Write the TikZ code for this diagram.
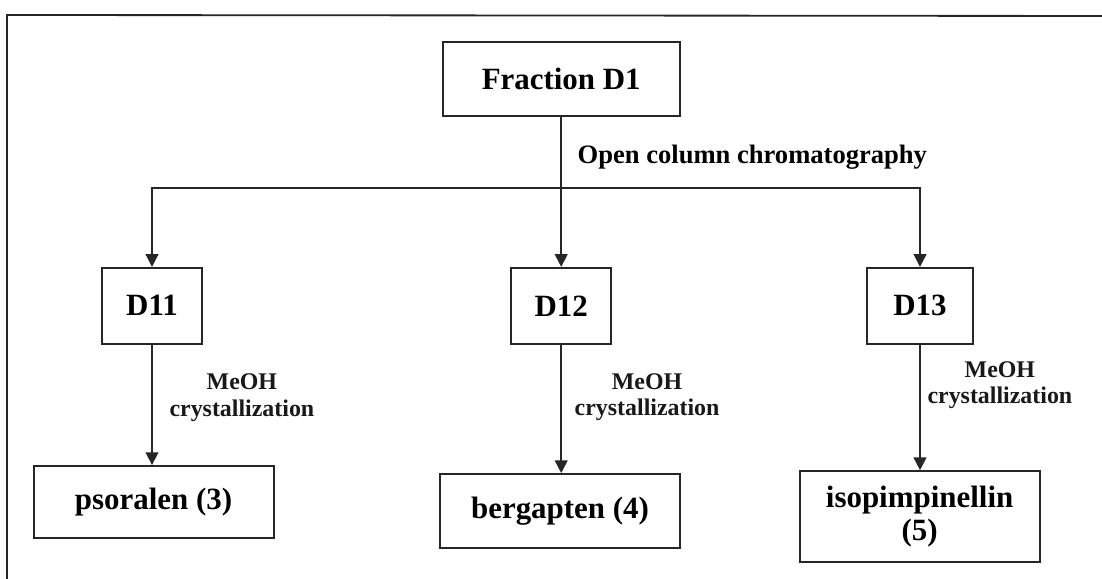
\documentclass[tikz,border=0pt]{standalone}
\usepackage{fontspec}
\setmainfont{Liberation Serif}
\usetikzlibrary{arrows.meta,positioning}
\tikzset{
  pageedge/.style={line width=1.3pt, draw=black!85},
  wire/.style={line width=1.2pt, draw=black!85},
  flow/.style={wire, -{Triangle[length=3.2mm, width=3.2mm]}},
  fracbox/.style={
    draw=black!85,
    line width=1.3pt,
    fill=white,
    align=center,
    font=\fontsize{22}{23.5}\selectfont\bfseries,
    inner sep=0pt,
    minimum width=2.5cm,
    minimum height=1.9cm
  },
  compound/.style={fracbox, minimum width=6.0cm},
  stepnote/.style={font=\fontsize{17}{18.5}\selectfont\bfseries, align=center, text=black!90},
  methodnote/.style={font=\fontsize{18.9}{22}\selectfont\bfseries, inner sep=0pt}
}

\begin{document}
\begin{tikzpicture}[x=1cm,y=1cm]
\path[use as bounding box] (0,0) rectangle (27.55,14.475);
\fill[white] (0,0) rectangle (27.55,14.475);
\draw[pageedge] (0.175,0) -- (0.175,14.1) -- (27.55,14.075);

\node[fracbox, minimum width=5.925cm, minimum height=1.85cm] (d1) at (14.03,12.5) {Fraction D1};
\coordinate (branch) at (14.03,9.775);

\node[fracbox] (d11) at (3.8,6.83) {D11};
\node[fracbox] (d12) at (14.03,6.83) {D12};
\node[fracbox, minimum width=2.65cm] (d13) at (23.0,6.83) {D13};

\node[compound, minimum height=1.8cm] (pso) at (3.84,1.925) {psoralen (3)};
\node[compound, minimum height=1.85cm] (berg) at (14.0,1.7) {bergapten (4)};
\node[compound, minimum height=2.275cm] (iso) at (22.99,1.56) {isopimpinellin\\(5)};

\draw[wire] (d1.south) -- node[methodnote, pos=0.57, right=0.39cm] {Open column chromatography} (branch);
\draw[flow] (branch) -| (d11.north);
\draw[flow] (branch) -- (d12.north);
\draw[flow] (branch) -| (d13.north);

\draw[flow] (d11.south) -- node[stepnote, pos=0.44, right=0.3cm] {MeOH\\crystallization} (d11.south |- pso.north);
\draw[flow] (d12.south) -- node[stepnote, pos=0.41, right=0.2cm] {MeOH\\crystallization} (d12.south |- berg.north);
\draw[flow] (d13.south) -- node[stepnote, pos=0.32, right=0.05cm] {MeOH\\crystallization} (d13.south |- iso.north);
\end{tikzpicture}
\end{document}
